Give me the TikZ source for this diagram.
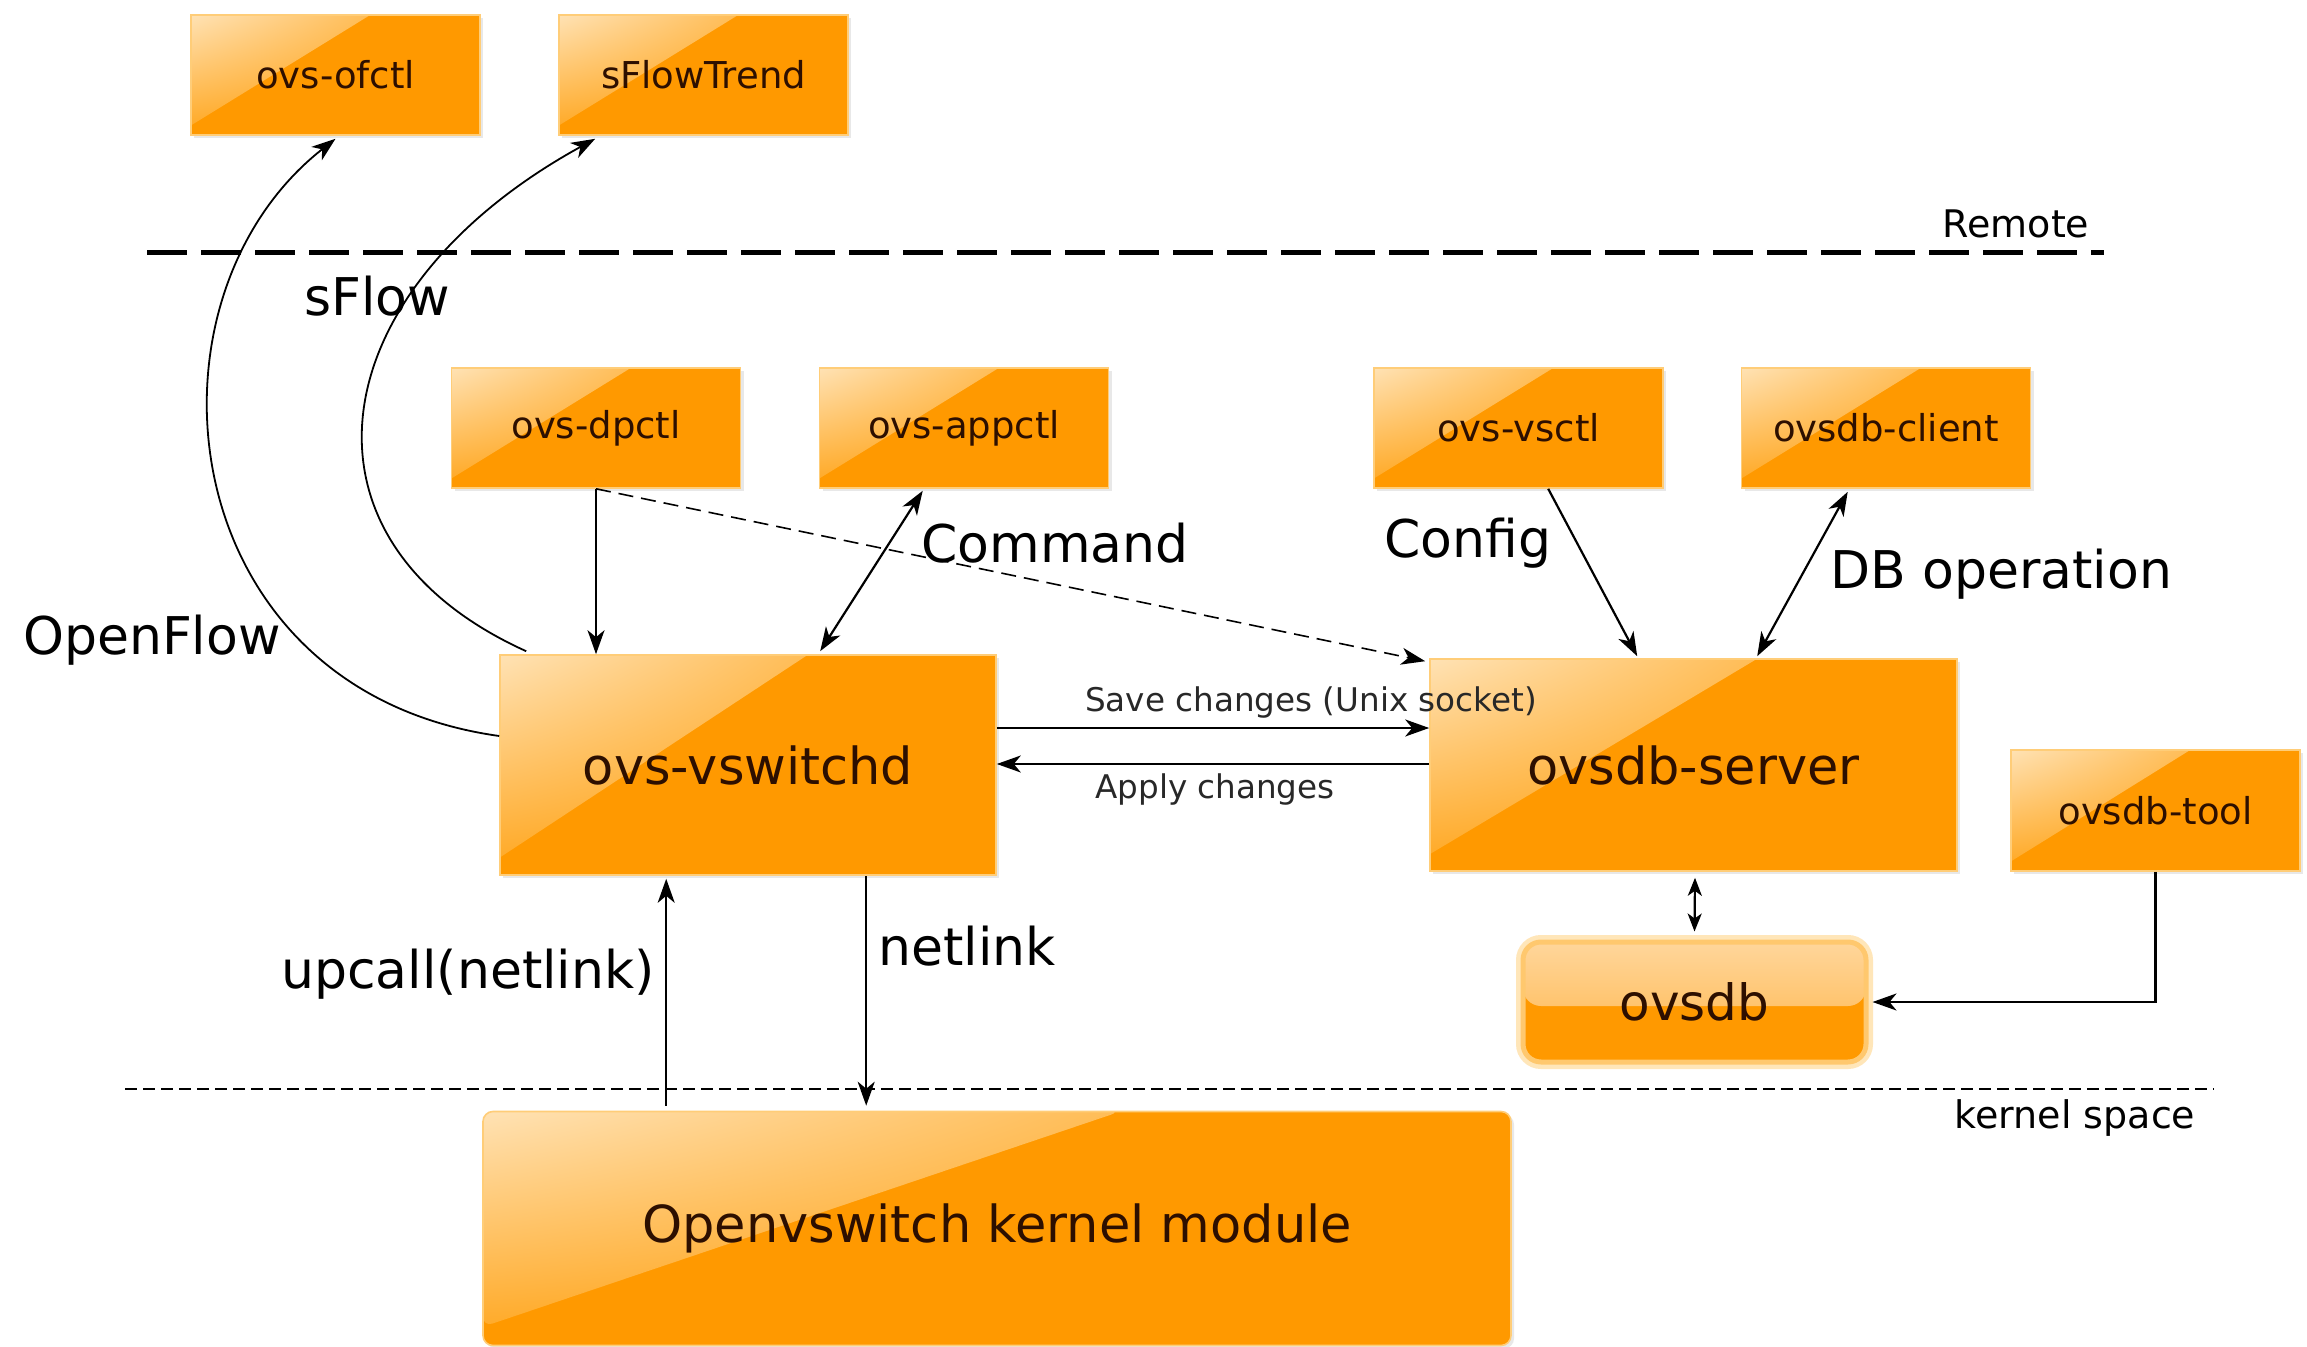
\documentclass[tikz,border=0pt]{standalone}
\usepackage{fontspec}
\setmainfont{DejaVu Sans}
\usetikzlibrary{arrows.meta,calc,shadows,shadings}
\definecolor{boxor}{RGB}{255,153,0}
\definecolor{glossA}{RGB}{255,226,180}
\definecolor{glossB}{RGB}{255,166,30}
\definecolor{boxedge}{RGB}{255,205,120}
\definecolor{boxtext}{RGB}{45,15,0}
\definecolor{ovsedge}{RGB}{255,200,110}
\definecolor{ovsglow}{RGB}{255,230,185}
\definecolor{ovstop}{RGB}{255,214,155}
\definecolor{ovsmid}{RGB}{255,180,70}
\definecolor{smalltext}{RGB}{40,40,40}
\begin{document}
\begin{tikzpicture}[x=0.5pt,y=-0.5pt,
  gloss/.style={path picture={
     \shade[upper left=glossA, upper right=glossB, lower left=glossB, lower right=boxor]
       (path picture bounding box.north west)
       -- ($(path picture bounding box.north west)!0.62!(path picture bounding box.north east)$)
       -- ($(path picture bounding box.north west)!0.92!(path picture bounding box.south west)$)
       -- cycle;}},
  obox/.style={draw=boxedge, line width=0.8pt, fill=boxor, inner sep=0pt, text=boxtext,
     gloss, drop shadow={shadow xshift=1.5pt, shadow yshift=-1.5pt, opacity=0.18},
     font=\fontsize{18.5}{22}\selectfont, minimum width=144.5pt, minimum height=60pt},
  bbox/.style={obox, font=\fontsize{25.5}{30}\selectfont},
  lab/.style={inner sep=0pt, font=\fontsize{26}{30}\selectfont},
  small/.style={inner sep=0pt, text=smalltext, font=\fontsize{16.3}{19}\selectfont},
  zone/.style={inner sep=0pt, font=\fontsize{19}{22}\selectfont},
  conn/.style={line width=1.1pt},
  tip/.style={-{Stealth[length=12pt,width=8.5pt,inset=3.5pt]}},
  btip/.style={{Stealth[length=12pt,width=8.5pt,inset=3.5pt]}-{Stealth[length=12pt,width=8.5pt,inset=3.5pt]}},
  stip/.style={{Stealth[length=9pt,width=7pt,inset=2.5pt]}-{Stealth[length=9pt,width=7pt,inset=2.5pt]}}
]
\useasboundingbox[fill=white] (0,0) rectangle (2307,1347);

% separators
\draw[line width=2.5pt, dash pattern=on 20pt off 7pt] (147,253) -- (2104,253);
\draw[line width=1pt, dash pattern=on 6pt off 3pt] (125,1089) -- (2214,1089);
\node[zone] (remote) at (2016,224) {Remote};
\node[zone] (kspace) at (2075,1118) {kernel space};

% boxes
\node[obox] (ofctl) at (335.5,75) {ovs-ofctl};
\node[obox] (sflow) at (703.5,75) {sFlowTrend};
\node[obox] (dpctl) at (596,428) {ovs-dpctl};
\node[obox] (appctl) at (964,428) {ovs-appctl};
\node[obox] (vsctl) at (1518.5,428) {ovs-vsctl};
\node[obox] (client) at (1886,428) {ovsdb-client};
\node[bbox, minimum width=248pt, minimum height=110pt] (vswitchd) at (748,765) {ovs-vswitchd};
\node[bbox, minimum width=263.5pt, minimum height=106pt] (server) at (1693.5,765) {ovsdb-server};
\node[obox, minimum height=60.5pt] (tool) at (2155.5,810.5) {ovsdb-tool};
\node[draw=ovsedge, line width=2.5pt, rounded corners=9pt, fill=boxor, inner sep=0pt,
      text=boxtext, font=\fontsize{25}{30}\selectfont,
      minimum width=171.5pt, minimum height=60pt,
      preaction={draw=ovsglow, line width=7pt},
      path picture={\fill[top color=ovstop, bottom color=ovsmid]
        (path picture bounding box.north west) rectangle ($(path picture bounding box.east)+(0,4)$);}]
      (ovsdb) at (1694.5,1002) {ovsdb};
\node[bbox, rounded corners=5pt, minimum width=514pt, minimum height=117pt] (kernel) at (997,1228.5) {Openvswitch kernel module};

% labels
\node[lab] (lsflow) at (377,296) {sFlow};
\node[lab] (lof) at (152,640) {OpenFlow};
\node[lab] (lcmd) at (1055,543) {Command};
\node[lab] (lcfg) at (1468,543) {Config};
\node[lab] (ldb) at (2001,574) {DB operation};
\node[lab] (lup) at (468,974) {upcall(netlink)};
\node[lab] (lnl) at (967,946) {netlink};
\node[small] (lsave) at (1311,703) {Save changes (Unix socket)};
\node[small] (lapply) at (1215,790) {Apply changes};

% connectors
\draw[conn, line width=0.9pt, tip] ($(vswitchd.west)+(0,-29)$) .. controls (170,690) and (130,300) .. ($(ofctl.south)+(0,3)$);
\draw[conn, line width=0.9pt, tip] ($(vswitchd.north west)+(27,-3)$) .. controls (280,540) and (320,290) .. ($(sflow.south west)+(37,3)$);
\draw[conn, tip] (dpctl.south) -- (dpctl.south |- vswitchd.north);
\draw[conn, btip] ($(appctl.south west)+(104,2)$) -- ($(vswitchd.north west)+(321,-3)$);
\draw[conn, line width=0.8pt, dash pattern=on 7.5pt off 4pt, tip] (dpctl.south) -- ($(server.north west)+(-4,3)$);
\draw[conn, tip] ($(vsctl.south west)+(175,0)$) -- ($(server.north west)+(208,-2)$);
\draw[conn, btip] ($(client.south west)+(107,3)$) -- ($(server.north west)+(328,-2)$);
\draw[conn, tip] ($(vswitchd.east)+(0,-37)$) -- ($(server.west)+(0,-37)$);
\draw[conn, tip] ($(server.west)+(0,-1)$) -- ($(vswitchd.east)+(0,-1)$);
\draw[conn, stip] ($(server.south)+(1.5,6)$) -- ($(ovsdb.north)+(0,-8)$);
\draw[conn, tip] (tool.south) |- ($(ovsdb.east)+(4,0)$);
\draw[conn, tip] ($(kernel.north west)+(184,-5)$) -- ($(vswitchd.south west)+(167,3)$);
\draw[conn, tip] ($(vswitchd.south west)+(367,0)$) -- ($(kernel.north west)+(384,-5)$);
\end{tikzpicture}
\end{document}
